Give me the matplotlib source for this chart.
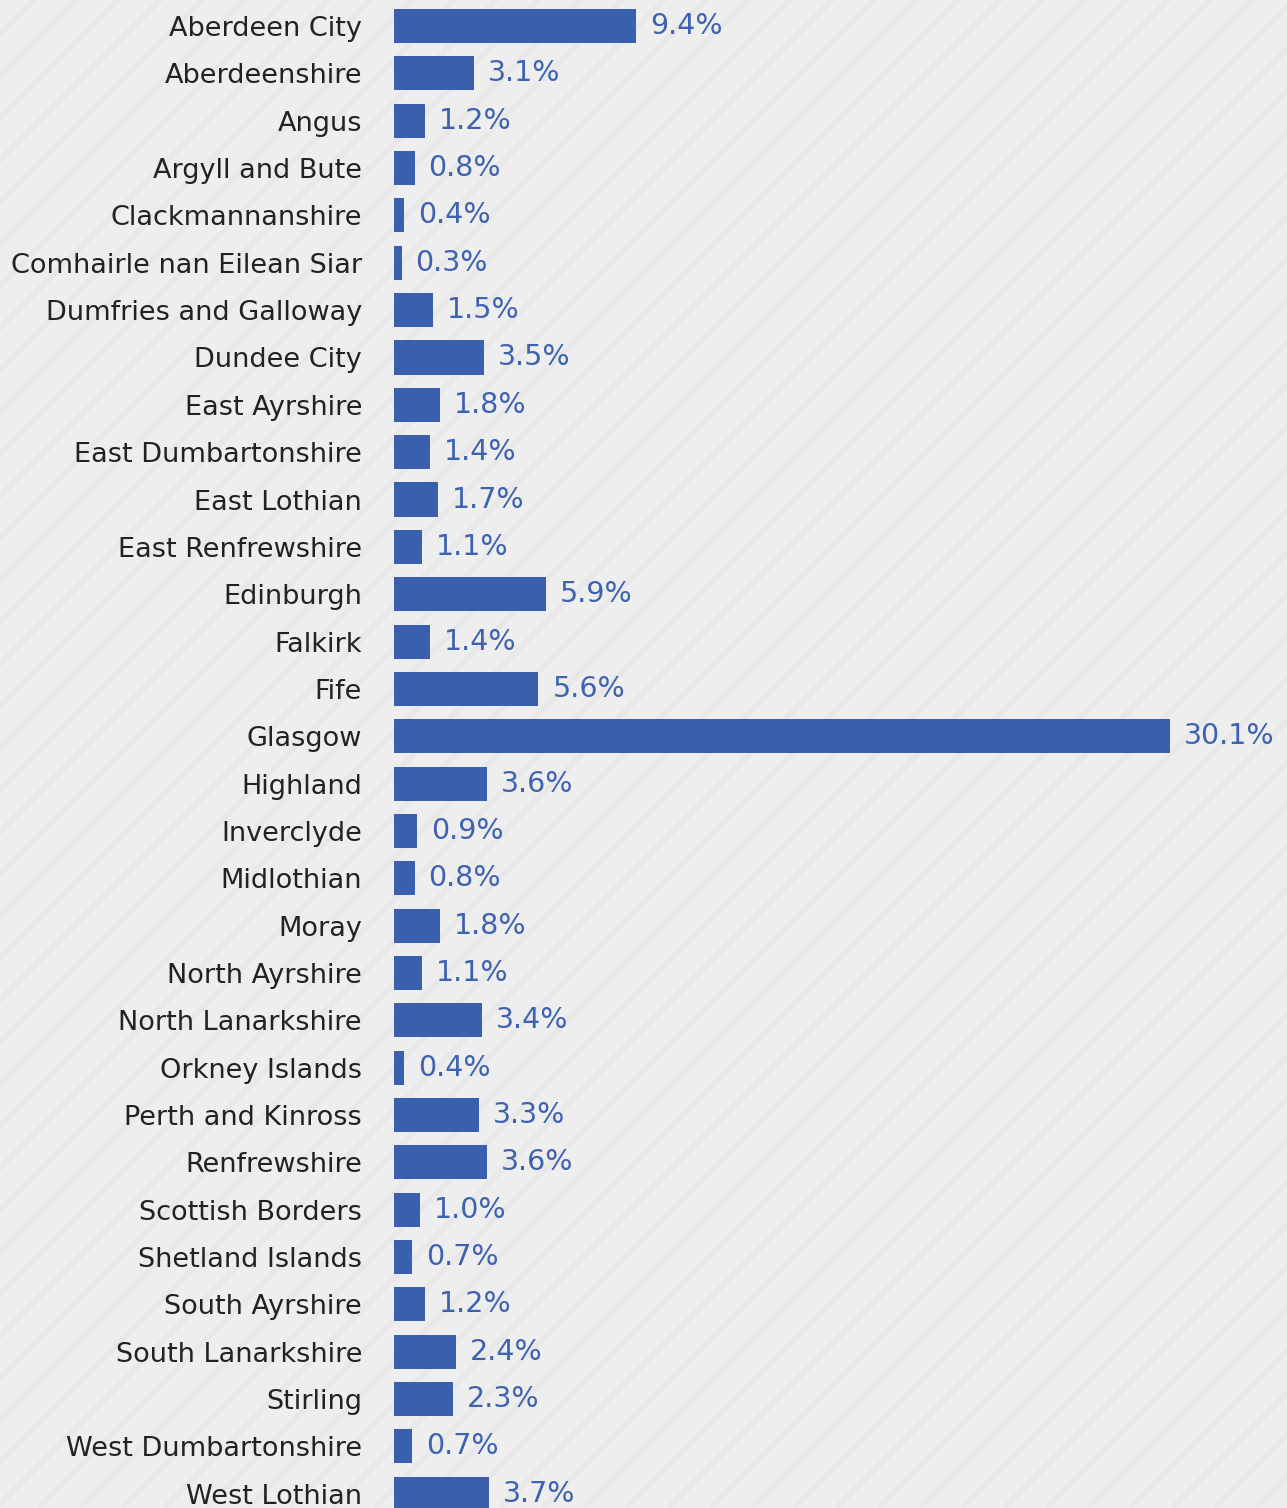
import matplotlib.pyplot as plt
import numpy as np

# Council areas and their share (%)
areas = [
    "Aberdeen City", "Aberdeenshire", "Angus", "Argyll and Bute",
    "Clackmannanshire", "Comhairle nan Eilean Siar", "Dumfries and Galloway",
    "Dundee City", "East Ayrshire", "East Dumbartonshire", "East Lothian",
    "East Renfrewshire", "Edinburgh", "Falkirk", "Fife", "Glasgow",
    "Highland", "Inverclyde", "Midlothian", "Moray", "North Ayrshire",
    "North Lanarkshire", "Orkney Islands", "Perth and Kinross",
    "Renfrewshire", "Scottish Borders", "Shetland Islands", "South Ayrshire",
    "South Lanarkshire", "Stirling", "West Dumbartonshire", "West Lothian",
]
shares = [
    9.4, 3.1, 1.2, 0.8, 0.4, 0.3, 1.5, 3.5, 1.8, 1.4, 1.7, 1.1, 5.9, 1.4,
    5.6, 30.1, 3.6, 0.9, 0.8, 1.8, 1.1, 3.4, 0.4, 3.3, 3.6, 1.0, 0.7, 1.2,
    2.4, 2.3, 0.7, 3.7,
]

bar_color = "#3a60ad"
bg_color = "#eeeeee"

fig = plt.figure(figsize=(12.87, 15.08), dpi=100)
fig.patch.set_facecolor(bg_color)

# faint diagonal stripes behind everything
bg = fig.add_axes([0, 0, 1, 1], zorder=-1)
bg.set_xlim(0, 1287)
bg.set_ylim(0, 1508)
bg.axis("off")
for x0 in np.arange(-1600, 1300, 42):
    bg.plot([x0, x0 + 1600], [0, 1600], color="#e6e6e6", lw=4, alpha=0.7,
            solid_capstyle="butt")

ax = fig.add_axes([394 / 1287, 0, 1 - 394 / 1287, 1])
ax.set_facecolor("none")

y = np.arange(len(areas))
ax.barh(y, shares, height=0.72, color=bar_color)

for yi, v in zip(y, shares):
    ax.annotate(f"{v:.1f}%", (v, yi), xytext=(10, 0), textcoords="offset points",
                va="center", ha="left", fontsize=20.5, color="#3d62b0")

ax.set_yticks(y)
ax.set_yticklabels(areas, fontsize=19.5, color="#222222")
ax.tick_params(axis="y", length=0, pad=23)
ax.set_xticks([])
ax.set_xlim(0, 30.1 * (1287 - 394) / 776)
ax.set_ylim(31.30, -0.55)
for s in ax.spines.values():
    s.set_visible(False)

fig.savefig("out.png", dpi=100, facecolor=fig.get_facecolor())
